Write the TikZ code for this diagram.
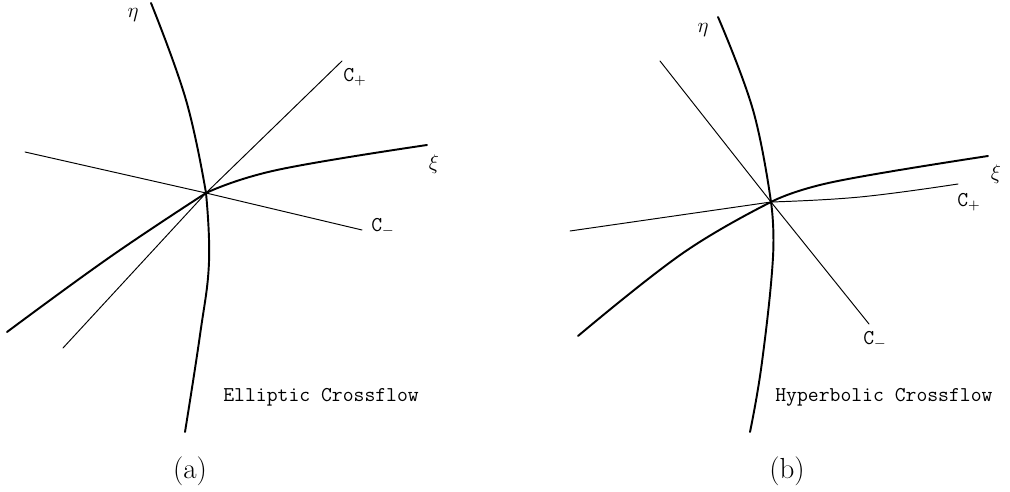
\documentclass[tikz,border=0pt]{standalone}
\usepackage{amsmath,amssymb}
\usepackage{xcolor}
\usepackage{tikz}
\usetikzlibrary{positioning,calc}
\tikzset{
    eixo/.style={line width=1.1pt, line cap=round},
    caracteristica/.style={line width=0.55pt, line cap=round},
    rotulo/.style={font=\ttfamily\fontsize{12}{14}\selectfont, inner sep=0pt, anchor=west},
    variavel/.style={font=\fontsize{12}{14}\selectfont, inner sep=0pt},
    legenda/.style={font=\fontsize{16.5}{19}\selectfont, inner sep=0pt}
}

\begin{document}
\begin{tikzpicture}[x=0.02cm, y=-0.02cm]
        \useasboundingbox (0,0) rectangle (1010,492);

        % (a) escoamento eliptico
        \coordinate (oa) at (206,193);
        \coordinate (etaAtopo) at (151,3);
        \coordinate (etaAbase) at (185,432);
        \coordinate (xiAesq) at (7,332);
        \coordinate (xiAdir) at (427,145);
        \coordinate (cmaisAesq) at (63,348);
        \coordinate (cmaisAdir) at (342,61);
        \coordinate (cmenosAesq) at (25,152);
        \coordinate (cmenosAdir) at (362,230);

        \draw[eixo] plot[smooth, tension=0.7] coordinates
            {(etaAtopo) (186,100) (oa)};
        \draw[eixo] plot[smooth, tension=0.7] coordinates
            {(oa) (209,262) (200,335) (etaAbase)};
        \draw[eixo] plot[smooth, tension=0.7] coordinates
            {(xiAesq) (110,257) (oa)};
        \draw[eixo] plot[smooth, tension=0.7] coordinates
            {(oa) (277,170) (xiAdir)};
        \draw[caracteristica] (cmaisAesq) -- (oa) -- (cmaisAdir);
        \draw[caracteristica] (cmenosAesq) -- (oa) -- (cmenosAdir);

        \node[variavel] (etaA) at (133,15) {$\eta$};
        \node[variavel] (xiA) at (434,164) {$\xi$};
        \node[rotulo] (cmaisA) at (343,77) {C$_{+}$};
        \node[rotulo] (cmenosA) at (371,227) {C$_{-}$};
        \node[rotulo] (tipoA) at (223,397) {Elliptic Crossflow};
        \node[legenda] (legA) at (190,471) {(a)};

        % (b) escoamento hiperbolico
        \coordinate (ob) at (771,202);
        \coordinate (etaBtopo) at (718,17);
        \coordinate (etaBbase) at (750,432);
        \coordinate (xiBesq) at (578,336);
        \coordinate (xiBdir) at (988,156);
        \coordinate (cmaisBesq) at (570,231);
        \coordinate (cmaisBdir) at (958,184);
        \coordinate (cmenosBesq) at (660,61);
        \coordinate (cmenosBdir) at (869,324);

        \draw[eixo] plot[smooth, tension=0.7] coordinates
            {(etaBtopo) (753,110) (ob)};
        \draw[eixo] plot[smooth, tension=0.7] coordinates
            {(ob) (773,257) (762,362) (etaBbase)};
        \draw[eixo] plot[smooth, tension=0.7] coordinates
            {(xiBesq) (683,253) (ob)};
        \draw[eixo] plot[smooth, tension=0.7] coordinates
            {(ob) (833,182) (xiBdir)};
        \draw[caracteristica] (cmaisBesq) -- (ob);
        \draw[caracteristica] plot[smooth, tension=0.7] coordinates
            {(ob) (860,197) (cmaisBdir)};
        \draw[caracteristica] (cmenosBesq) -- (ob) -- (cmenosBdir);

        \node[variavel] (etaB) at (703,30) {$\eta$};
        \node[variavel] (xiB) at (996,174) {$\xi$};
        \node[rotulo] (cmaisB) at (957,202) {C$_{+}$};
        \node[rotulo] (cmenosB) at (863,340) {C$_{-}$};
        \node[rotulo] (tipoB) at (775,397) {Hyperbolic Crossflow};
        \node[legenda] (legB) at (787,471) {(b)};
    \end{tikzpicture}
\end{document}
